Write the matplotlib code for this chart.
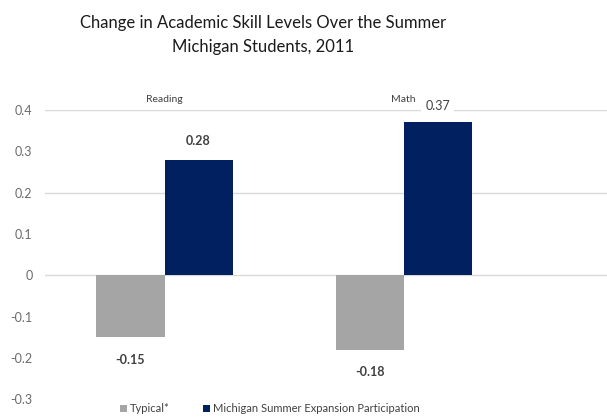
import numpy as np
import matplotlib.pyplot as plt

categories = ["Reading", "Math"]
typical = [-0.15, -0.18]
michigan = [0.28, 0.37]
series_names = ["Typical*", "Michigan Summer Expansion Participation"]
yticks = [-0.3, -0.2, -0.1, 0, 0.1, 0.2, 0.3, 0.4]

plt.rcParams['font.family'] = ['Lato', 'DejaVu Sans']

fig = plt.figure(figsize=(6.07, 4.17), dpi=100)
ax = fig.add_axes([0.074, 0.043, 0.926, 0.693])

x = np.arange(len(categories))
w = 0.285
b1 = ax.bar(x - w / 2, typical, w, color='#A5A5A5', label=series_names[0])
b2 = ax.bar(x + w / 2, michigan, w, color='#002060', label=series_names[1])

ax.set_xlim(-0.5, 1.85)
ax.set_ylim(-0.3, 0.4)
ax.set_yticks(yticks)
ax.set_yticklabels(["-0.3", "-0.2", "-0.1", "0", "0.1", "0.2", "0.3", "0.4"])
ax.tick_params(axis='y', length=0, labelsize=9, labelcolor='#6b6b6b', pad=9)
ax.set_xticks([])
for s in ax.spines.values():
    s.set_visible(False)

# only some gridlines show in the original
for g in [0.4, 0.2, 0]:
    ax.axhline(g, color='#D9D9D9', lw=1, zorder=0)

# category labels on top
for i, c in enumerate(categories):
    ax.text(x[i], 0.415, c, ha='center', va='bottom', fontsize=7.5, color='#404040')

# data labels
for i in range(len(categories)):
    ax.text(x[i] - w / 2, typical[i] - 0.055, f"{typical[i]:.2f}", ha='center', va='center',
            fontsize=9, fontweight='bold', color='#404040')
ax.text(x[0] + w / 2, michigan[0] + 0.045, f"{michigan[0]:.2f}", ha='center', va='center',
        fontsize=9, fontweight='bold', color='#404040')
ax.text(x[1] + w / 2, michigan[1] + 0.04, f"{michigan[1]:.2f}", ha='center', va='center',
        fontsize=9, color='#404040', bbox=dict(facecolor='white', edgecolor='none', pad=3))

fig.text(0.433, 0.945, "Change in Academic Skill Levels Over the Summer", ha='center', va='center',
         fontsize=12, color='#1a1a1a')
fig.text(0.433, 0.888, "Michigan Students, 2011", ha='center', va='center',
         fontsize=12, color='#1a1a1a')

leg = fig.legend(handles=[b1, b2], loc='center', bbox_to_anchor=(0.445, 0.02), ncol=2, frameon=False,
                 fontsize=8, handlelength=0.6, handleheight=0.6, handletextpad=0.3, columnspacing=3)
for t in leg.get_texts():
    t.set_color('#404040')

fig.savefig("out.png", dpi=100)
